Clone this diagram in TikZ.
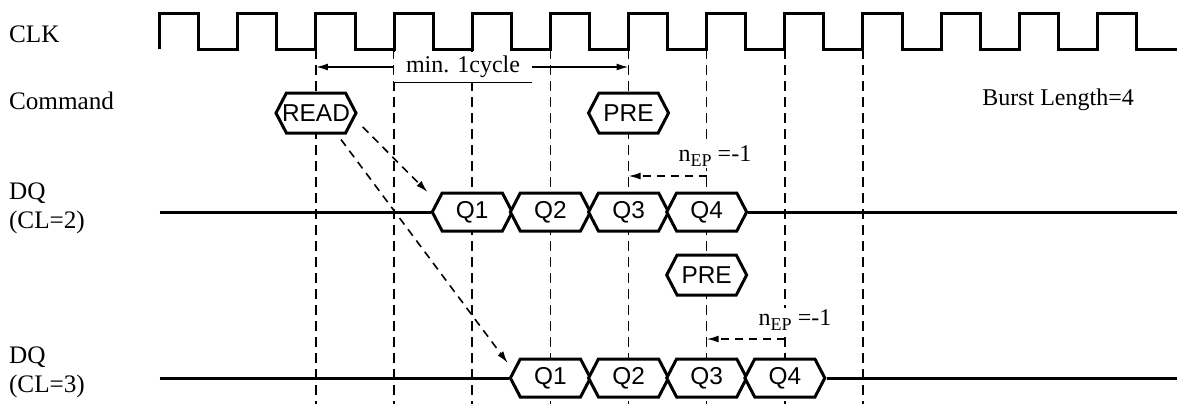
\documentclass[tikz,border=0pt]{standalone}
\usepackage{fontspec}
\setmainfont{Liberation Serif}
\setsansfont{Liberation Sans}
\usetikzlibrary{shapes.symbols, arrows.meta, calc, positioning}
\newcommand{\sigtxt}[1]{\makebox[0pt]{#1}}
\tikzset{
    sigline/.style={
        line width=1.5pt, line join=miter
    },
    gridline/.style={
        line width=0.8pt, dash pattern=on 5pt off 3pt
    },
    sigbox/.style={
        signal, signal to=west and east, signal pointer angle=125,
        draw, line width=1.5pt, fill=white, inner sep=0pt,
        minimum width=40pt, minimum height=19pt,
        font=\sffamily\fontsize{12.2}{13}\selectfont
    },
    dptr/.style={
        line width=0.8pt, dash pattern=on 4pt off 3pt,
        -{Latex[length=6pt,width=3.5pt]}
    },
    lbl/.style={
        font=\fontsize{12}{14.5}\selectfont
    },
    leftlbl/.style={
        anchor=west, align=left, font=\fontsize{12.6}{14.5}\selectfont
    }
}
\begin{document}
\begin{tikzpicture}[x=0.5pt, y=-0.5pt]
    \useasboundingbox (0,0) rectangle (1177,404);

    % flanken des taktes
    \foreach \k in {0,...,12}
        \coordinate (e\k) at ({159.7+78.14*\k},49);
    \coordinate (rend) at (1177,0);

    % beschriftung links
    \node[leftlbl] (clk) at (2,34) {CLK};
    \node[leftlbl] (cmd) at (2,101) {Command};
    \node[leftlbl] (dqa) at (2,208) {DQ\\(CL=2)};
    \node[leftlbl] (dqb) at (2,372) {DQ\\(CL=3)};
    \node[lbl] (burst) at (1058,100) {Burst Length=4};

    % gestrichelte hilfslinien
    \foreach \k in {2,...,9}
        \draw[gridline] (e\k) -- ++(0,355);

    % takt
    \draw[sigline] (e0) \foreach \k in {0,...,12} {
        -- ++(0,-36) -- ++(39.07,0) -- ++(0,36) -- ++(39.07,0)} -- (e0 -| rend);

    % min. 1cycle
    \coordinate (cys) at (e2 |- 0,67);
    \coordinate (cye) at (e6 |- 0,67);
    \draw[line width=0.8pt, {Latex[length=6pt,width=3.5pt]}-{Latex[length=6pt,width=3.5pt]}] (cys) -- (cye);
    \node[lbl, fill=white, inner xsep=6pt, inner ysep=2pt] (cyc) at (463,67) {min. 1cycle};
    \draw[line width=0.8pt] (cyc.south west) -- (cyc.south east);

    % command
    \node[sigbox, minimum height=20pt] (read) at (e2 |- 0,113) {\sigtxt{READ}};
    \node[sigbox, minimum height=20pt] (pre) at (e6 |- 0,113) {\sigtxt{PRE}};

    % DQ (CL=2)
    \foreach \k/\q in {4/1,5/2,6/3,7/4}
        \node[sigbox] (a\q) at (e\k |- 0,212) {\sigtxt{Q\q}};
    \draw[sigline] (e0 |- a1.west) -- (a1.west);
    \draw[sigline] (a4.east) -- (a4.east -| rend);

    % PRE bei CL=3
    \node[sigbox, minimum height=20pt] (pre2) at (e7 |- 0,275) {\sigtxt{PRE}};

    % DQ (CL=3)
    \foreach \k/\q in {5/1,6/2,7/3,8/4}
        \node[sigbox] (b\q) at (e\k |- 0,378) {\sigtxt{Q\q}};
    \draw[sigline] (e0 |- b1.west) -- (b1.west);
    \draw[sigline] (b4.east) -- (b4.east -| rend);

    % READ -> Q1
    \draw[dptr] ($(read.east)+(5,14)$) -- ($(a1.west)+(-3,-20)$);
    \draw[dptr] ($(read.south)+(25,5)$) -- ($(b1.west)+(-1,-15)$);

    % n_EP
    \coordinate (epa) at (e7 |- 0,176);
    \coordinate (epb) at (e6 |- 0,176);
    \draw[dptr] (epa) -- (epb);
    \node[lbl, fill=white, inner sep=1pt] (epl) at (715,156) {n{\fontsize{9}{10}\selectfont\raisebox{-2.2pt}{EP}} =-1};
    \coordinate (epc) at (e8 |- 0,339);
    \coordinate (epd) at (e7 |- 0,339);
    \draw[dptr] (epc) -- (epd);
    \node[lbl, fill=white, inner sep=1pt] (epm) at (795,320) {n{\fontsize{9}{10}\selectfont\raisebox{-2.2pt}{EP}} =-1};

\end{tikzpicture}
\end{document}
